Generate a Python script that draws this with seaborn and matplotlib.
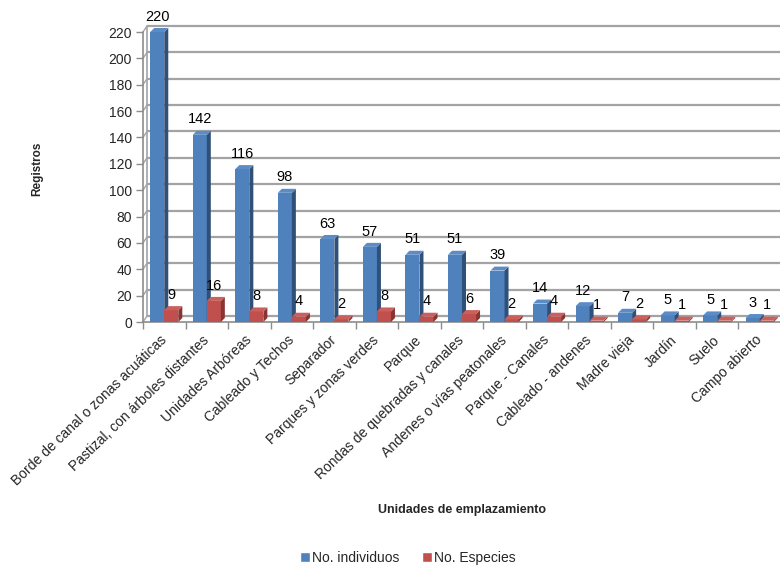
import numpy as np
import pandas as pd
import matplotlib
matplotlib.use("Agg")
import matplotlib.pyplot as plt
import matplotlib.transforms as mtransforms
from matplotlib.patches import Polygon, Patch
import seaborn as sns

# DATA
categorias = [
    "Borde de canal o zonas acuáticas",
    "Pastizal, con árboles distantes",
    "Unidades Arbóreas",
    "Cableado y Techos",
    "Separador",
    "Parques y zonas verdes",
    "Parque",
    "Rondas de quebradas y canales",
    "Andenes o vías peatonales",
    "Parque - Canales",
    "Cableado - andenes",
    "Madre vieja",
    "Jardín",
    "Suelo",
    "Campo abierto",
]
individuos = [220, 142, 116, 98, 63, 57, 51, 51, 39, 14, 12, 7, 5, 5, 3]
especies = [9, 16, 8, 4, 2, 8, 4, 6, 2, 4, 1, 2, 1, 1, 1]
series = ["No. individuos", "No. Especies"]
y_ticks = list(range(0, 221, 20))

df = pd.DataFrame({
    "unidad": categorias * 2,
    "serie": [series[0]] * len(categorias) + [series[1]] * len(categorias),
    "registros": individuos + especies,
})

colores_frente = {"No. individuos": "#4F81BD", "No. Especies": "#C0504D"}
colores_lado = {"No. individuos": "#2F5079", "No. Especies": "#8A3432"}
colores_tope = {"No. individuos": "#5B8CC6", "No. Especies": "#CB5F5C"}

sns.set_style("white")
plt.rcParams["font.family"] = ["Liberation Sans", "DejaVu Sans"]

fig = plt.figure(figsize=(7.8, 5.69), dpi=100)
ax = fig.add_axes([143 / 780, 1 - 322 / 569, 638 / 780, 290 / 569])

sns.barplot(
    data=df, x="unidad", y="registros", hue="serie",
    palette=colores_frente, width=0.66, saturation=1,
    ax=ax, legend=False, zorder=3,
)

ax.set_xlim(-0.5, len(categorias) - 0.5)
ax.set_ylim(0, 220)

# 3D depth offsets (px -> data units)
px_x = 1 / 42.5
px_y = 220 / 290
dx, dy = 4 * px_x, 4 * px_y
wx, wy = 4 * px_x, 6 * px_y

# back wall gridlines
for v in y_ticks:
    ax.plot([-0.5 + wx, len(categorias) - 0.5 + wx], [v + wy, v + wy],
            color="#a3a3a3", lw=1.6, zorder=1, clip_on=False, solid_capstyle="butt")
    ax.plot([-0.5, -0.5 + wx], [v, v + wy], color="#a3a3a3", lw=1.0,
            zorder=1, clip_on=False)
# left wall and floor
ax.plot([-0.5 + wx, -0.5 + wx], [wy, 220 + wy], color="#a3a3a3", lw=1.2,
        zorder=1, clip_on=False)
ax.plot([-0.5, -0.5], [0, 220], color="#8c8c8c", lw=1.2, zorder=1, clip_on=False)
ax.plot([-0.5, len(categorias) - 0.5], [0, 0], color="#8c8c8c", lw=1.2, zorder=1, clip_on=False)

# 3D faces for bars
for i, bar in enumerate(ax.patches):
    serie = series[0] if i < len(categorias) else series[1]
    z = 3 if serie == series[0] else 5
    x0 = bar.get_x()
    w = bar.get_width()
    h = bar.get_height()
    bar.set_zorder(z)
    bar.set_linewidth(0)
    lado = Polygon([(x0 + w, 0), (x0 + w + dx, dy), (x0 + w + dx, h + dy), (x0 + w, h)],
                   closed=True, facecolor=colores_lado[serie], lw=0, zorder=z, clip_on=False)
    tope = Polygon([(x0, h), (x0 + w, h), (x0 + w + dx, h + dy), (x0 + dx, h + dy)],
                   closed=True, facecolor=colores_tope[serie], lw=0, zorder=z, clip_on=False)
    ax.add_patch(lado)
    ax.add_patch(tope)
    bar.set_clip_on(False)

for cont in ax.containers:
    ax.bar_label(cont, padding=6, fontsize=10.5, color="black")

for s in ax.spines.values():
    s.set_visible(False)

ax.set_yticks(y_ticks)
ax.tick_params(axis="y", length=5, width=1, color="#8c8c8c", labelsize=10, pad=3, left=True)
ax.set_xticks(range(len(categorias)))
ax.set_xticks(np.arange(-0.5, len(categorias), 1), minor=True)
ax.tick_params(axis="x", which="major", length=0, pad=11.5)
ax.tick_params(axis="x", which="minor", length=5, width=1, color="#8c8c8c", bottom=True)
ax.set_xticklabels(categorias, rotation=44, ha="right", va="center",
                   rotation_mode="anchor", fontsize=10)
off = mtransforms.ScaledTranslation(0 / 100, 0, fig.dpi_scale_trans)
for lab in ax.get_xticklabels():
    lab.set_transform(lab.get_transform() + off)

ax.set_ylabel("Registros", fontsize=8.5, fontweight="bold", labelpad=0)
ax.yaxis.set_label_coords((43 - 143) / 638, (322 - 169) / 290)
ax.set_xlabel("")
fig.text(462 / 780, 1 - 510 / 569, "Unidades de emplazamiento", fontsize=9,
         fontweight="bold", ha="center", va="center")

handles = [Patch(facecolor=colores_frente[s], label=s) for s in series]
fig.legend(handles=handles, loc="center", bbox_to_anchor=(408 / 780, 1 - 558 / 569),
           ncol=2, frameon=False, fontsize=10, handlelength=0.75, handleheight=0.75,
           handletextpad=0.15, columnspacing=1.6)

fig.savefig("out.png", dpi=100)
